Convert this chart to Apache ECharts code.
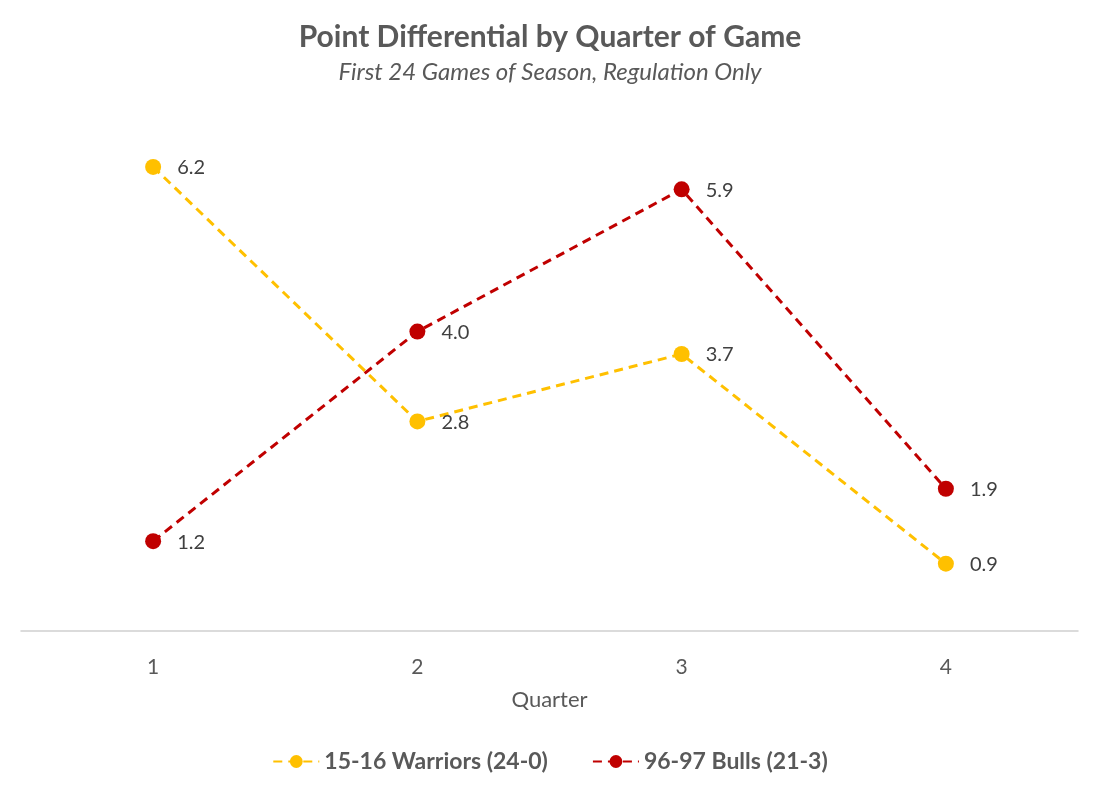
<!DOCTYPE html>
<html>
<head>
<meta charset="utf-8">
<script src="https://cdn.jsdelivr.net/npm/echarts@6/dist/echarts.min.js"></script>
<style>
  html, body { margin: 0; padding: 0; background: #fff; }
  #main { width: 1100px; height: 796px; }
</style>
</head>
<body>
<div id="main"></div>
<script>
var myChart = echarts.init(document.getElementById('main'));

var quarters = ['1', '2', '3', '4'];
var warriors = [6.2, 2.8, 3.7, 0.9];
var bulls = [1.2, 4.0, 5.9, 1.9];

var fontFamily = 'Lato, "Open Sans", sans-serif';

function lineSeries(name, data, color) {
  return {
    name: name,
    type: 'line',
    data: data,
    symbol: 'circle',
    symbolSize: 16,
    lineStyle: { color: color, width: 3, type: [9, 6] },
    itemStyle: { color: color },
    label: {
      show: true,
      position: 'right',
      distance: 16,
      offset: [0, 1],
      color: '#404040',
      fontSize: 20,
      fontFamily: fontFamily,
      formatter: function (p) { return p.value.toFixed(1); }
    }
  };
}

option = {
  animation: false,
  title: {
    text: 'Point Differential by Quarter of Game',
    subtext: 'First 24 Games of Season, Regulation Only',
    left: 'center',
    top: 17,
    itemGap: 8,
    textStyle: {
      color: '#595959',
      fontSize: 30,
      fontWeight: 'bold',
      fontFamily: fontFamily
    },
    subtextStyle: {
      color: '#595959',
      fontSize: 24,
      fontStyle: 'italic',
      fontFamily: fontFamily
    }
  },
  legend: {
    bottom: 18,
    left: 'center',
    itemWidth: 46,
    itemHeight: 16,
    itemGap: 44,
    textStyle: {
      color: '#595959',
      fontSize: 23,
      fontWeight: 'bold',
      fontFamily: fontFamily
    },
    data: ['15-16 Warriors (24-0)', '96-97 Bulls (21-3)']
  },
  grid: {
    left: 21,
    right: 22,
    top: 107,
    bottom: 165
  },
  xAxis: {
    type: 'category',
    data: quarters,
    boundaryGap: true,
    name: 'Quarter',
    nameLocation: 'middle',
    nameGap: 58,
    nameTextStyle: { color: '#595959', fontSize: 22, fontFamily: fontFamily },
    axisLine: { lineStyle: { color: '#d0d0d0', width: 1.5 } },
    axisTick: { show: false },
    axisLabel: { color: '#595959', fontSize: 21, margin: 26, fontFamily: fontFamily }
  },
  yAxis: {
    type: 'value',
    min: 0,
    max: 7,
    show: false,
    splitLine: { show: false }
  },
  series: [
    lineSeries('15-16 Warriors (24-0)', warriors, '#FFC000'),
    lineSeries('96-97 Bulls (21-3)', bulls, '#C00000')
  ]
};

myChart.setOption(option);
</script>
</body>
</html>
